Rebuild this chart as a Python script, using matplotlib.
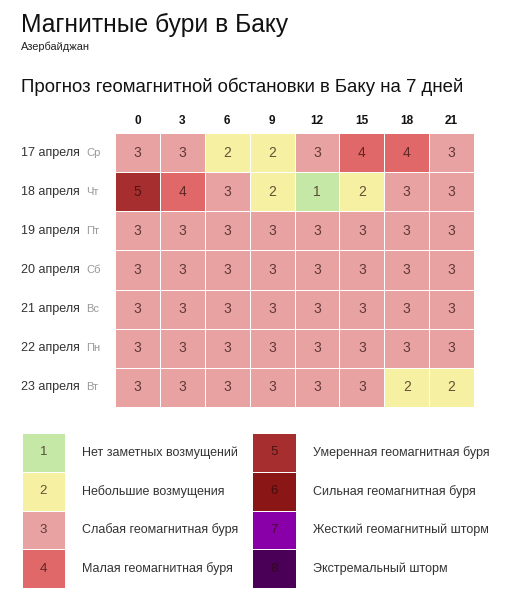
import numpy as np
import matplotlib
matplotlib.use('Agg')
import matplotlib.pyplot as plt
from matplotlib.colors import ListedColormap, BoundaryNorm
import matplotlib.transforms as mtransforms

plt.rcParams['font.family'] = ['Liberation Sans', 'DejaVu Sans']

# data
hours = ['0', '3', '6', '9', '12', '15', '18', '21']
dates = ['17 апреля', '18 апреля', '19 апреля', '20 апреля',
         '21 апреля', '22 апреля', '23 апреля']
weekdays = ['Ср', 'Чт', 'Пт', 'Сб', 'Вс', 'Пн', 'Вт']
kp = [
    [3, 3, 2, 2, 3, 4, 4, 3],
    [5, 4, 3, 2, 1, 2, 3, 3],
    [3, 3, 3, 3, 3, 3, 3, 3],
    [3, 3, 3, 3, 3, 3, 3, 3],
    [3, 3, 3, 3, 3, 3, 3, 3],
    [3, 3, 3, 3, 3, 3, 3, 3],
    [3, 3, 3, 3, 3, 3, 2, 2],
]
levels = [1, 2, 3, 4, 5, 6, 7, 8]
level_names = ['Нет заметных возмущений', 'Небольшие возмущения',
               'Слабая геомагнитная буря', 'Малая геомагнитная буря',
               'Умеренная геомагнитная буря', 'Сильная геомагнитная буря',
               'Жесткий геомагнитный шторм', 'Экстремальный шторм']
level_colors = ['#c6e8a6', '#f5f0a2', '#e8a2a2', '#e06868',
                '#a62e2e', '#8a1616', '#8a00a8', '#4a0056']

cmap = ListedColormap(level_colors)
norm = BoundaryNorm(np.arange(0.5, 9.5, 1), cmap.N)

W, H = 507, 599
fig = plt.figure(figsize=(W / 100, H / 100), dpi=100)
fig.patch.set_facecolor('white')

def fx(px):
    return px / W

def fy(py):
    return 1 - py / H

# titles
fig.text(fx(21), fy(32), 'Магнитные бури в Баку', fontsize=17.7,
         color='#111111', va='baseline', ha='left')
fig.text(fx(21), fy(50), 'Азербайджан', fontsize=7.9,
         color='#222222', va='baseline', ha='left')
fig.text(fx(21), fy(92), 'Прогноз геомагнитной обстановки в Баку на 7 дней',
         fontsize=13.4, color='#111111', va='baseline', ha='left')

# main grid
ax = fig.add_axes([fx(115), fy(407), fx(474) - fx(115), (407 - 133) / H])
data = np.array(kp)
ax.pcolormesh(data, cmap=cmap, norm=norm, edgecolors='white', linewidth=0.7)
ax.set_xlim(0, len(hours))
ax.set_ylim(len(dates), 0)
for i in range(len(dates)):
    for j in range(len(hours)):
        ax.text(j + 0.5, i + 0.5, str(data[i, j]), ha='center', va='center',
                fontsize=10, color='#2a0a0a', alpha=0.7)

ax.xaxis.tick_top()
ax.set_xticks(np.arange(len(hours)) + 0.5)
ax.set_xticklabels(hours, fontsize=8.5, fontweight='bold', color='#111111')
ax.tick_params(axis='x', length=0, pad=4)
ax.set_yticks([])
for s in ax.spines.values():
    s.set_visible(False)

trans = mtransforms.blended_transform_factory(ax.transAxes, ax.transData)
x_date = (21 - 115) / (474 - 115)
x_day = (86 - 115) / (474 - 115)
for i, (d, wd) in enumerate(zip(dates, weekdays)):
    ax.text(x_date, i + 0.5, d, transform=trans, ha='left', va='center',
            fontsize=9, color='#333333')
    ax.text(x_day, i + 0.5, wd, transform=trans, ha='left', va='center',
            fontsize=8, color='#999999')

# legend blocks
def legend_block(x0, x1, lv, names):
    lax = fig.add_axes([fx(x0), fy(588), fx(x1) - fx(x0), (588 - 433) / H])
    vals = np.array(lv).reshape(-1, 1)
    lax.pcolormesh(vals, cmap=cmap, norm=norm, edgecolors='white', linewidth=0.7)
    lax.set_xlim(0, 1)
    lax.set_ylim(len(lv), 0)
    lax.axis('off')
    for k, (v, name) in enumerate(zip(lv, names)):
        lax.text(0.5, k + 0.5, str(v), ha='center', va='center',
                 fontsize=9.5, color='#2a0a0a', alpha=0.7)
        lax.text(1 + 17 / (x1 - x0), k + 0.5, name, ha='left', va='center',
                 fontsize=9, color='#333333')

legend_block(22, 65, levels[:4], level_names[:4])
legend_block(252, 296, levels[4:], level_names[4:])

fig.savefig('out.png', dpi=100, facecolor='white')
